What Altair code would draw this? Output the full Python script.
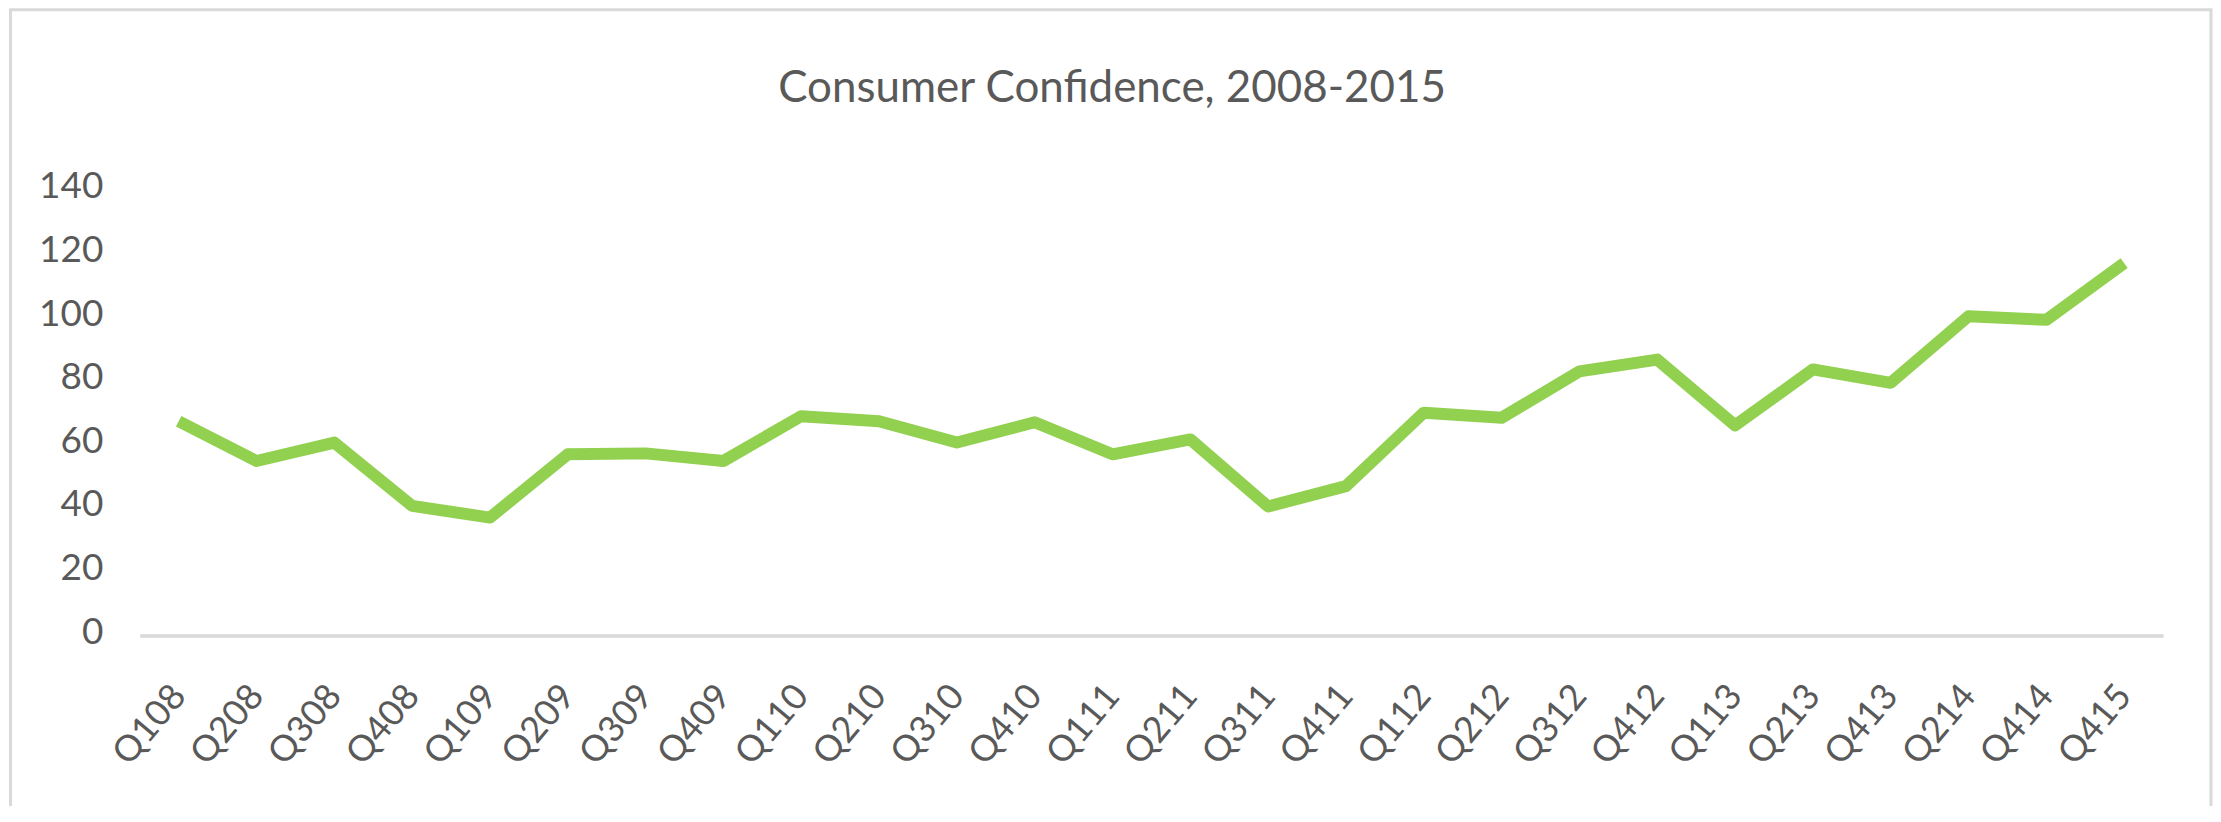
import altair as alt
import pandas as pd

quarters = ["Q108", "Q208", "Q308", "Q408", "Q109", "Q209", "Q309", "Q409",
            "Q110", "Q210", "Q310", "Q410", "Q111", "Q211", "Q311", "Q411",
            "Q112", "Q212", "Q312", "Q412", "Q113", "Q213", "Q413", "Q214",
            "Q414", "Q415"]
confidence = [67.4, 54.9, 60.7, 40.8, 37.1, 57.0, 57.3, 54.9,
              69.0, 67.4, 60.7, 67.1, 57.0, 61.7, 40.6, 47.0,
              70.1, 68.5, 83.1, 86.8, 66.1, 83.7, 79.5, 100.4,
              99.3, 117.1]
y_ticks = [0, 20, 40, 60, 80, 100, 120, 140]
title_text = "Consumer Confidence, 2008-2015"

df = pd.DataFrame({"quarter": quarters, "value": confidence})

FONT = "Lato"
GRAY = "#595959"

frame = alt.Chart(alt.Data(values=[{"f": 1}])).mark_rect(
    fillOpacity=0, stroke="#d9d9d9", strokeWidth=3
).encode(
    x=alt.value(-129.5), x2=alt.value(2075),
    y=alt.value(-181), y2=alt.value(700)
)

line = alt.Chart(df).mark_line(
    color="#92d050", strokeWidth=12, strokeJoin="round", strokeCap="butt"
).encode(
    x=alt.X("quarter:N", sort=quarters,
            scale=alt.Scale(type="point", padding=0.5),
            axis=alt.Axis(title=None, labelAngle=-50, labelAlign="right",
                          labelBaseline="middle", labelPadding=54,
                          ticks=False, grid=False, domain=True,
                          domainColor="#d9d9d9", domainWidth=3.5,
                          labelFont=FONT, labelFontSize=36,
                          labelColor=GRAY)),
    y=alt.Y("value:Q", scale=alt.Scale(domain=[0, 140], nice=False),
            axis=alt.Axis(title=None, values=y_ticks, ticks=False,
                          domain=False, grid=False, labelPadding=37,
                          labelOffset=-3.5, labelFont=FONT,
                          labelFontSize=37, labelColor=GRAY))
)

chart = alt.layer(frame, line).properties(
    width=2027, height=446,
    background="white",
    autosize=alt.AutoSizeParams(type="none"),
    padding={"left": 132, "top": 182, "right": 50, "bottom": 170},
    title=alt.Title(title_text, font=FONT, fontSize=44, fontWeight="normal",
                    color=GRAY, anchor="middle", dx=-39.5, offset=-137.5,
                    baseline="alphabetic"),
).configure_view(stroke="transparent", strokeWidth=0)

chart.save("out.html", embed_options={"renderer": "svg", "actions": False})
